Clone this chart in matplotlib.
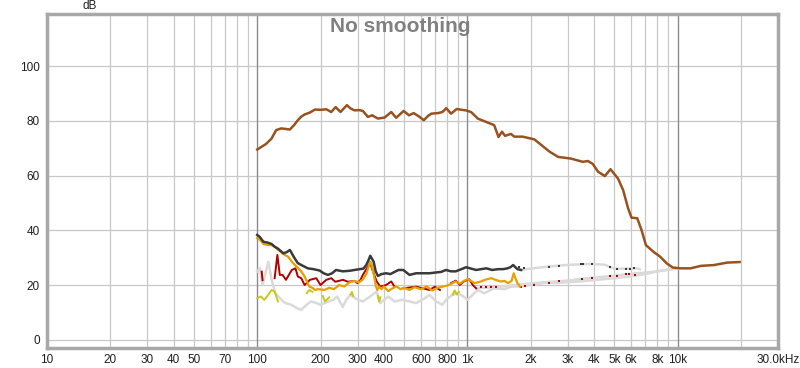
import numpy as np
import matplotlib
matplotlib.use("Agg")
import matplotlib.pyplot as plt
from matplotlib.ticker import NullFormatter

plt.rcParams["font.family"] = ["Liberation Sans", "DejaVu Sans"]

nan = np.nan

# ------------------------------------------------------------
# data: (frequency Hz, level dB)
# ------------------------------------------------------------
fundamental = [
    (100, 69.5), (110, 71.5), (117, 73.5), (123, 76.6), (130, 77.2), (137, 77.0),
    (143, 76.8), (150, 78.5), (156, 80.2), (162, 81.5), (168, 82.3), (178, 83.0),
    (188, 84.1), (200, 84.0), (213, 84.2), (225, 83.2), (236, 85.0), (249, 83.2),
    (258, 84.5), (267, 85.7), (278, 84.5), (290, 83.8), (305, 83.9), (318, 83.6),
    (336, 81.4), (352, 82.0), (375, 80.8), (404, 81.2), (434, 83.2), (458, 81.1),
    (497, 83.6), (527, 82.0), (555, 82.8), (590, 81.5), (620, 80.2), (650, 81.8),
    (674, 82.6), (724, 82.8), (760, 83.2), (793, 84.6), (835, 82.6), (889, 84.3),
    (940, 84.0), (983, 83.8), (1040, 83.2), (1120, 80.8), (1225, 79.6), (1340, 78.4),
    (1405, 74.1), (1460, 76.0), (1510, 74.5), (1610, 75.2), (1670, 74.2), (1830, 74.2),
    (2005, 73.5), (2080, 73.2), (2250, 71.1), (2460, 68.7), (2700, 66.8), (3100, 66.2),
    (3540, 65.0), (3740, 65.3), (3950, 64.2), (4180, 61.4), (4500, 59.8), (4790, 62.3),
    (5200, 58.9), (5500, 54.7), (5810, 48.0), (6030, 44.6), (6420, 44.4), (6730, 40.1),
    (7060, 34.6), (7650, 32.2), (8240, 30.4), (8870, 27.9), (9480, 26.4), (10300, 26.1),
    (11500, 26.1), (12900, 27.0), (14900, 27.3), (17200, 28.2), (19700, 28.4),
]

thd = [
    (100, 38.3), (103, 37.5), (107, 35.8), (112, 35.5), (117, 35.0), (121, 34.0),
    (125, 33.4), (129, 32.5), (133, 31.6), (138, 32.0), (143, 32.8), (150, 30.0),
    (156, 28.0), (165, 27.0), (174, 26.1), (185, 25.8), (198, 25.3), (207, 24.3),
    (217, 23.7), (227, 24.3), (237, 25.5), (255, 25.0), (275, 25.2), (290, 25.5),
    (307, 25.8), (320, 26.0), (330, 27.3), (338, 29.0), (345, 30.7), (352, 29.5),
    (358, 28.5), (366, 25.0), (375, 23.3), (390, 24.0), (410, 24.3), (430, 24.0),
    (450, 24.8), (470, 25.5), (495, 25.5), (530, 23.7), (570, 24.3), (615, 24.3),
    (660, 24.3), (710, 24.6), (750, 24.8), (790, 25.5), (835, 25.0), (880, 25.0),
    (935, 25.8), (985, 26.5), (1040, 26.0), (1100, 25.5), (1160, 25.8), (1230, 26.1),
    (1310, 25.5), (1400, 25.8), (1480, 25.8), (1550, 26.1), (1600, 26.5), (1650, 27.3),
    (1690, 26.5), (1730, 25.8), (1800, 25.5),
]
thd_below_noise = [
    (1800, 25.5), (2000, 26.0), (2400, 26.7), (2800, 27.2), (3300, 27.5), (3940, 27.7),
    (4500, 27.4), (4800, 26.5), (5050, 25.9), (5600, 26.0), (6400, 26.1), (6600, 25.8),
]
thd_dots = [
    (1760, 26.5), (1850, 26.3), (2430, 26.7), (2735, 27.1), (3470, 27.6), (3530, 27.6),
    (3895, 27.7), (4760, 26.5), (5120, 25.9), (5670, 26.0), (5925, 26.0), (6210, 26.1),
]

h2 = [
    (105, 24.9), (106, 21.8), (110, nan), (121, 22.5), (124.7, 31.0), (128, 23.7),
    (132, 23.7), (137, 21.9), (146, 25.5), (152, 26.1), (156, 23.1), (162, 22.5),
    (168, 20.0), (178, 21.9), (191, 22.5), (200, 20.0), (213, 21.9), (225, 22.5),
    (235, 21.2), (256, 21.9), (270, 21.2), (290, 21.5), (300, 20.7), (310, 21.9),
    (318, 23.7), (336, 26.7), (345, 28.0), (355, 25.0), (370, 21.3), (385, 19.4),
    (410, 20.0), (434, 21.3), (450, 19.4), (470, nan), (495, 18.8), (570, 19.4),
    (660, 18.2), (700, 19.4), (740, 18.2), (790, nan), (835, 20.7), (880, 21.6),
    (920, 20.0), (960, 21.3), (1020, 22.1), (1060, 20.0), (1100, 18.8),
]
h2_below_noise = [
    (1100, 18.8), (1400, 19.3), (1700, 20.0), (2000, 20.6), (2500, 21.2), (3000, 21.6),
    (3500, 22.3), (4000, 22.7), (4800, 23.3), (5500, 23.8), (6400, 24.3), (7000, 24.5),
    (8000, 25.0), (9000, 25.6), (10000, 26.0),
]
h2_dots = [
    (1160, 19.3), (1230, 19.3), (1300, 19.3), (1370, 19.3), (1800, 19.4), (1870, 19.6),
    (2070, 20.0), (2430, 20.7), (2735, 21.3), (3500, 22.1), (3895, 22.7), (4760, 23.3),
    (5120, 23.3), (5670, 24.0), (5850, 24.0), (6250, 23.6),
]

h3 = [
    (100, 37.1), (103, 36.5), (107, 35.0), (112, 34.6), (117, 34.6), (121, 34.0),
    (125, 33.0), (130, 32.0), (135, 31.0), (140, 30.4), (148, 28.0), (155, 26.5),
    (162, 25.0), (168, 23.1), (173, 21.0), (177, 19.4), (183, 19.0), (188, 18.2),
    (195, 18.5), (209, 18.2), (220, 19.0), (232, 18.5), (245, 20.0), (260, 19.5),
    (275, 21.0), (290, 21.5), (305, 21.0), (318, 22.0), (330, 24.0), (338, 26.5),
    (345, 28.5), (350, 27.5), (358, 24.0), (366, 20.0), (372, 18.2), (380, 19.4),
    (390, 18.5), (400, 19.5), (420, 17.8), (440, 18.8), (460, 19.5), (480, 18.5),
    (500, 19.0), (530, 18.2), (560, 19.2), (600, 18.5), (640, 19.5), (680, 18.0),
    (720, 19.0), (760, 19.4), (800, 19.8), (840, 20.5), (880, 21.3), (920, 20.5),
    (960, 21.5), (1000, 22.1), (1040, 21.5), (1080, 20.7), (1120, 21.0), (1160, 21.3),
    (1220, 22.0), (1300, 22.5), (1370, 21.8), (1440, 21.3), (1500, 21.5), (1560, 20.7),
    (1620, 21.5), (1660, 24.3), (1700, 22.0), (1730, 20.7), (1780, 19.4),
]

h4 = [
    (100, 15.2), (104, 15.8), (108, 14.6), (113, 16.5), (117, 18.2), (121, 17.6),
    (125.5, 14.0), (150, nan), (172, 17.0), (177, 18.2), (183, 17.5), (195, nan),
    (205, 16.0), (210, 14.0), (220, 15.5), (250, nan), (278, 16.5), (282, 17.5),
    (286, 16.0), (330, nan), (375, 16.0), (380, 14.0), (385, 15.5), (600, nan),
    (850, 16.5), (870, 18.0), (890, 16.5), (910, 17.5),
]

noise = [
    (100, 25.0), (103, 26.1), (106, 20.0), (110, 25.0), (113, 28.5), (117, 22.0),
    (122, 17.0), (128, 15.3), (135, 13.5), (145, 12.8), (155, 11.5), (162, 10.9),
    (170, 12.5), (180, 14.0), (190, 13.5), (200, 12.8), (215, 13.8), (230, 14.6),
    (240, 15.8), (255, 12.0), (265, 14.5), (277, 16.4), (295, 15.0), (318, 14.0),
    (340, 15.5), (370, 17.6), (385, 13.4), (420, 15.8), (450, 14.0), (490, 14.6),
    (530, 14.0), (570, 13.4), (620, 15.0), (660, 16.4), (710, 14.0), (760, 12.8),
    (800, 15.0), (850, 16.4), (900, 17.0), (950, 16.0), (1000, 14.6), (1060, 16.5),
    (1120, 18.2), (1200, 17.0), (1340, 18.8), (1500, 18.5), (1610, 19.4), (1800, 19.5),
    (2000, 20.0), (2330, 20.7), (2800, 20.9), (3400, 21.3), (4000, 21.8), (5000, 22.5),
    (6000, 23.2), (7000, 24.0), (8000, 25.0), (9000, 25.6), (10000, 26.0),
]

x_tick_pos = [10, 20, 30, 40, 50, 70, 100, 200, 300, 400, 600, 800,
              1000, 2000, 3000, 4000, 5000, 6000, 8000, 10000, 30000]
x_tick_lab = ["10", "20", "30", "40", "50", "70", "100", "200", "300", "400", "600", "800",
              "1k", "2k", "3k", "4k", "5k", "6k", "8k", "10k", "30.0kHz"]
y_ticks = [0, 20, 40, 60, 80, 100]

GRID = "#c8c8c8"
C_FUND = "#99521f"
C_THD = "#3a3a3a"
C_H2 = "#b00000"
C_H3 = "#e6a000"
C_H4 = "#c8c81a"
C_GREY = "#dadada"


def xy(pairs):
    a = np.array(pairs, dtype=float)
    return a[:, 0], a[:, 1]


fig = plt.figure(figsize=(8.0, 3.68), dpi=100)
ax = fig.add_axes([47 / 800, 1 - 348 / 368, 731 / 800, 334 / 368])

ax.set_xscale("log")
ax.set_xlim(10, 30000)
ax.set_ylim(-3, 119)

# grid: every 1..9 per decade, decades darker
minor = [m * 10 ** d for d in range(1, 5) for m in range(1, 10) if m * 10 ** d < 30000]
ax.xaxis.remove_overlapping_locs = False
ax.set_xticks(minor, minor=True)
ax.xaxis.set_minor_formatter(NullFormatter())
ax.set_xticks(x_tick_pos)
ax.set_xticklabels(x_tick_lab)
ax.set_yticks(y_ticks)
ax.grid(which="minor", axis="x", color=GRID, lw=0.9)
ax.grid(which="major", axis="y", color=GRID, lw=0.9)
for d in [100, 1000, 10000]:
    ax.axvline(d, color="#8a8a8a", lw=0.9, zorder=1)
ax.tick_params(which="both", length=0, labelsize=8.5, labelcolor="#202020")
ax.tick_params(axis="x", pad=4)
ax.tick_params(axis="y", pad=5)
ax.set_axisbelow(True)

for s in ax.spines.values():
    s.set_color("#a8a8a8")
    s.set_linewidth(2.5)

# curves, light grey first
for pairs in [noise, h2_below_noise, thd_below_noise]:
    f, v = xy(pairs)
    ax.plot(f, v, color=C_GREY, lw=1.8, zorder=2)

f, v = xy(h4)
ax.plot(f, v, color=C_H4, lw=1.4, zorder=3)
f, v = xy(h2)
ax.plot(f, v, color=C_H2, lw=1.4, zorder=4)
f, v = xy(h3)
ax.plot(f, v, color=C_H3, lw=1.6, zorder=5)
f, v = xy(thd)
ax.plot(f, v, color=C_THD, lw=1.8, zorder=6)
f, v = xy(h2_dots)
ax.plot(f, v, ls="none", marker="s", ms=1.8, mew=0, color=C_H2, zorder=4)
f, v = xy(thd_dots)
ax.plot(f, v, ls="none", marker="s", ms=1.8, mew=0, color=C_THD, zorder=6)
f, v = xy(fundamental)
ax.plot(f, v, color=C_FUND, lw=1.8, zorder=7)

fig.text(400 / 800, 1 - 27 / 368, "No smoothing", ha="center", va="center",
         fontsize=15, fontweight="bold", color="#808080")
fig.text(90 / 800, 1 - 6 / 368, "dB", ha="center", va="center",
         fontsize=8.5, color="#202020")

fig.savefig("out.png", dpi=100)
